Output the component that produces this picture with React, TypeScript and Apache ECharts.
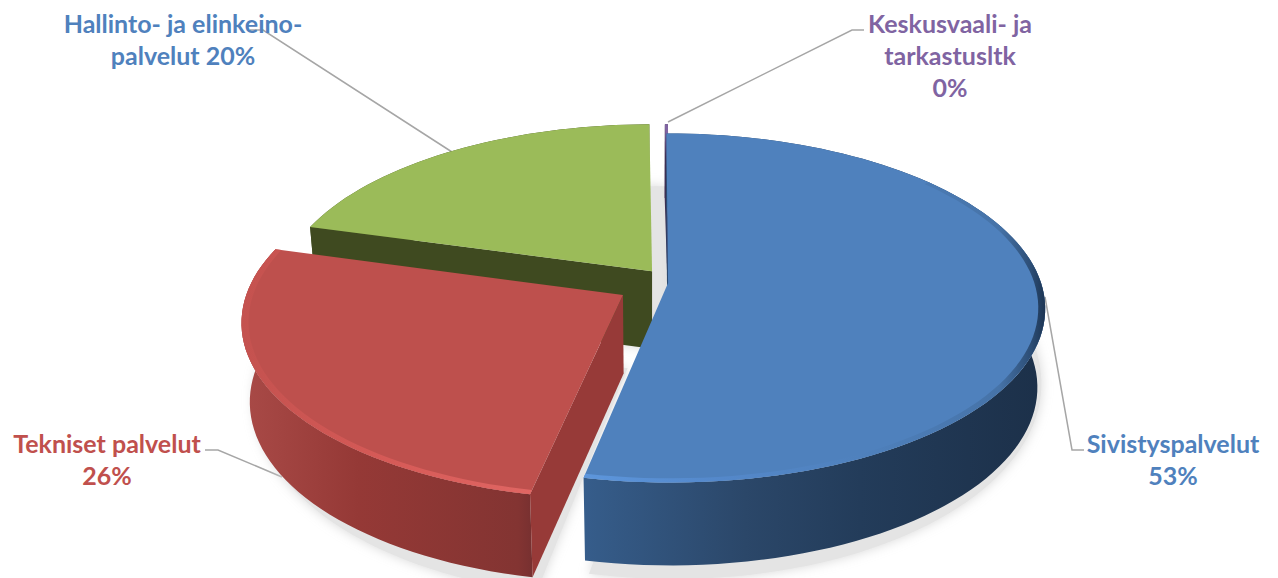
import React, { useEffect, useRef } from "react";
import * as echarts from "echarts";

// ---- data ----
const categories = ["Sivistyspalvelut\n", "Tekniset palvelut\n", "Hallinto- ja elinkeino-\npalvelut ", "Keskusvaali- ja\ntarkastusltk\n"];
const values = [53.2, 26.2, 20.45, 0.15];

// ---- styling / projection constants ----
const W = 1278, H = 578;
const CX = 655, CY = 283, A = 373, B = 171, D = 7, K = 0.98, DEPTH = 78;
const explode = [[0.035, 0.0], [-0.085, 0.07], [-0.008, -0.07], [0.04, -0.07]];
const shadowShift = [[4, 2], [4, 2], [16, 12], [4, 2]];
const LG = (stops: [number, string][]) =>
  new echarts.graphic.LinearGradient(0, 0, 1, 0, stops.map(([offset, color]) => ({ offset, color })));
const palette = [
  { top: "#4f81bd", wall: "#2b4a70", text: "#4f81bd",
    side: [[0, "#365d8b"], [0.35, "#2b4769"], [0.6, "#233c5a"], [1, "#1c3049"]] as [number, string][],
    rim: [[0, "#5d96dc"], [0.3, "#5488ca"], [0.6, "#4f81bd"], [0.9, "#4673a8"], [0.97, "#2c4d75"], [1, "#1d3553"]] as [number, string][], rimFrom: 50 },
  { top: "#be504d", wall: "#973a38", text: "#c0504d",
    side: [[0, "#a94a47"], [0.4, "#953936"], [0.95, "#833432"], [1, "#773030"]] as [number, string][],
    rim: [[0, "#c4524f"], [0.5, "#d65a57"], [1, "#e06663"]] as [number, string][], rimFrom: 0 },
  { top: "#9bbb59", wall: "#3f4a20", text: "#4f81bd",
    side: [[0, "#4a5a26"], [1, "#3f4a20"]] as [number, string][], rim: null, rimFrom: 0 },
  { top: "#8064a2", wall: "#3d2f53", text: "#8064a2",
    side: [[0, "#3d2f53"], [1, "#3d2f53"]] as [number, string][], rim: null, rimFrom: 0 },
];
const labelPos = [[1173, 427], [107, 427], [183, 7], [950, 7]];
const leaders = [
  [[1045, 297], [1072, 450], [1084, 450]],
  [[205, 450], [218, 450], [282, 477]],
  [[452, 152], [263, 30], [250, 30]],
  [[668, 122], [852, 30], [864, 30]],
];

const total = values.reduce((a, b) => a + b, 0);
const starts: number[] = [];
values.reduce((acc, v, i) => { starts[i] = acc; return acc + (v / total) * 360; }, 0);

function project(U: number, V: number) {
  const s = D / (D - V);
  return { x: CX + A * U * s, y: CY + B * V * s, s };
}
function world(i: number, deg: number, r: number) {
  const t = (deg * Math.PI) / 180;
  return project(explode[i][0] + r * Math.sin(t), explode[i][1] - r * Math.cos(t));
}
function lower(p: { x: number; y: number; s: number }) {
  return {
    x: CX + (p.x - CX) * K,
    y: CY + (p.y - CY) * K + DEPTH * Math.pow(p.s, 0.7),
    s: p.s,
  };
}
function arc(i: number, from: number, to: number, r = 1) {
  const out: { x: number; y: number; s: number }[] = [];
  const n = Math.max(2, Math.ceil((to - from) / 2));
  for (let k = 0; k <= n; k++) out.push(world(i, from + ((to - from) * k) / n, r));
  return out;
}
const xy = (p: { x: number; y: number }) => [p.x, p.y];

function shadowItem(params: any, api: any) {
  const i = api.value(1);
  const a0 = starts[i], a1 = a0 + (api.value(0) / total) * 360;
  const pts = [world(i, 0, 0), ...arc(i, a0, a1)].map((p) => [
    CX + (p.x - CX) * K + shadowShift[i][0],
    p.y + 51 + 149 * (p.s - 0.875) + shadowShift[i][1],
  ]);
  return {
    type: "polygon",
    silent: true,
    shape: { points: pts },
    style: { fill: "#e4e4e4", shadowBlur: 12, shadowColor: "#d8d8d8" },
  };
}

function sliceItem(params: any, api: any) {
  const i = api.value(1);
  const a0 = starts[i], a1 = a0 + (api.value(0) / total) * 360;
  const c = palette[i];
  const apex = world(i, 0, 0);
  const rimPts = arc(i, a0, a1);
  const mid = world(i, (a0 + a1) / 2, 1);
  const children: any[] = [];
  // outer side
  children.push({
    type: "polygon", silent: true,
    shape: { points: [...rimPts.map(xy), ...rimPts.slice().reverse().map((p) => xy(lower(p)))] },
    style: { fill: LG(c.side) },
  });
  // cut walls, only those that face the viewer
  for (const edge of [rimPts[0], rimPts[rimPts.length - 1]]) {
    const ex = edge.x - apex.x, ey = edge.y - apex.y;
    const side = ex * (mid.y - apex.y) - ey * (mid.x - apex.x);
    const inwardY = side > 0 ? ex : -ex; // y part of the edge normal pointing into the slice
    if (inwardY > 0) continue;
    children.push({
      type: "polygon", silent: true,
      shape: { points: [xy(apex), xy(edge), xy(lower(edge)), xy(lower(apex))] },
      style: { fill: c.wall },
    });
  }
  // top face
  children.push({
    type: "polygon", silent: true,
    shape: { points: [xy(apex), ...rimPts.map(xy)] },
    style: { fill: c.top },
  });
  // bevel highlight along the rim
  if (c.rim) {
    const outer = arc(i, a0 + c.rimFrom, a1, 1);
    const inner = arc(i, a0 + c.rimFrom, a1, 0.982);
    children.push({
      type: "polygon", silent: true,
      shape: { points: [...outer.map(xy), ...inner.reverse().map(xy)] },
      style: { fill: LG(c.rim) },
    });
  }
  return { type: "group", children };
}

function labelItem(params: any, api: any) {
  const i = api.value(1);
  const pct = Math.round((api.value(0) / total) * 100);
  return {
    type: "group",
    children: [
      {
        type: "polyline", silent: true,
        shape: { points: leaders[i] },
        style: { fill: "none", stroke: "#a6a6a6", lineWidth: 1.5 },
      },
      {
        type: "text", silent: true,
        style: {
          text: `${categories[i]}${pct}%`,
          x: labelPos[i][0], y: labelPos[i][1],
          align: "center", verticalAlign: "top",
          fontFamily: "Lato", fontWeight: "bold", fontSize: 25, lineHeight: 32,
          fill: palette[i].text,
        },
      },
    ],
  };
}

export default function App() {
  const ref = useRef<HTMLDivElement>(null);
  useEffect(() => {
    const chart = echarts.init(ref.current!, undefined, { renderer: "svg" });
    const data = values.map((v, i) => [v, i]).reverse();
    chart.setOption({
      animation: false,
      backgroundColor: "#ffffff",
      series: [
        { type: "custom", coordinateSystem: "none", renderItem: labelItem, data, z: 1 },
        { type: "custom", coordinateSystem: "none", renderItem: shadowItem, data, z: 2 },
        { type: "custom", coordinateSystem: "none", renderItem: sliceItem, data, z: 3 },
      ],
    });
    return () => chart.dispose();
  }, []);
  return <div ref={ref} style={{ position: "fixed", left: 0, top: 0, width: W, height: H }} />;
}
